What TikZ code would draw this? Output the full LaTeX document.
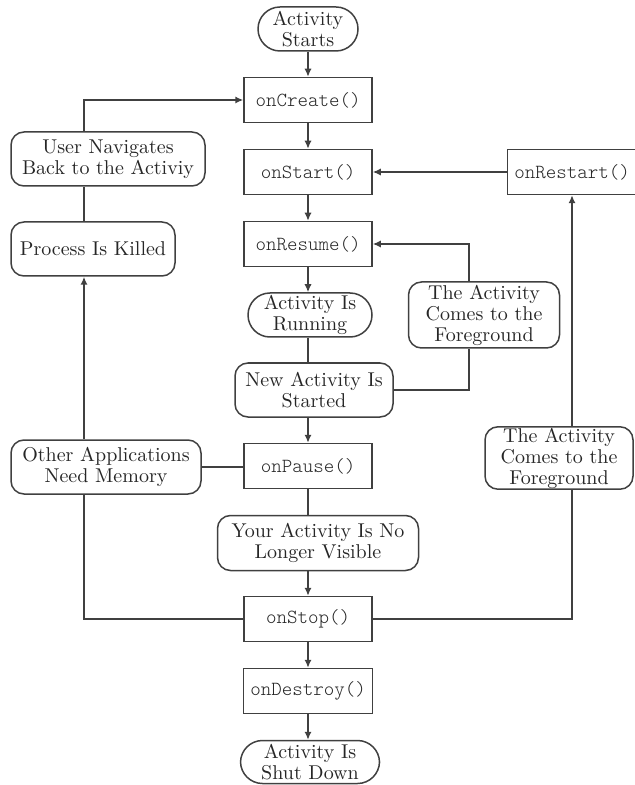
\documentclass[tikz,border=0pt]{standalone}
\usepackage{fontspec}
\usepackage{xcolor}
\usepackage{tikz}
\usetikzlibrary{arrows.meta}
\newfontfamily\methodfont{Latin Modern Mono Light}

\begin{document}
\begin{tikzpicture}[x=0.5pt,y=-0.5pt,line width=0.75pt,color=black!75,
  every node/.append style={text=black!85},
  method/.style={draw,minimum width=64pt,minimum height=22.5pt,font=\methodfont},
  event/.style={draw,rounded corners=6.5pt,align=center,inner sep=0.5pt,font=\fontsize{10pt}{10.5pt}\selectfont},
  state/.style={event,rounded corners=11pt},
  arr/.style={-{Latex[length=4pt,width=3.6pt]}}]
\useasboundingbox (0,0) rectangle (634,785);
\node[state,minimum width=50pt,minimum height=22pt] (start) at (308,29) {Activity\\Starts};
\node[method] (create) at (308,100) {onCreate()};
\node[method] (onstart) at (308,172) {onStart()};
\node[method,minimum width=61pt] (restart) at (572,172) {onRestart()};
\node[method] (resume) at (308,244) {onResume()};
\node[event,minimum width=97pt,minimum height=27pt] (navigate) at (108,159) {User Navigates\\Back to the Activiy};
\node[event,minimum width=82pt,minimum height=27pt] (killed) at (93,249) {Process Is Killed};
\node[state,minimum width=62pt,minimum height=22pt] (running) at (310,315) {Activity Is\\Running};
\node[event,minimum width=75.5pt,minimum height=33pt] (fgmid) at (484,315) {The Activity\\Comes to the\\Foreground};
\node[event,minimum width=79pt,minimum height=27pt] (newact) at (314,390) {New Activity Is\\Started};
\node[method] (pause) at (308,466) {onPause()};
\node[event,minimum width=95pt,minimum height=27pt] (memory) at (106,467) {Other Applications\\Need Memory};
\node[event,minimum width=74pt,minimum height=30.5pt] (fgright) at (559,458) {The Activity\\Comes to the\\Foreground};
\node[event,minimum width=100.5pt,minimum height=27.5pt] (hidden) at (318,543) {Your Activity Is No\\Longer Visible};
\node[method] (stop) at (308,619) {onStop()};
\node[method] (destroy) at (308,691) {onDestroy()};
\node[state,minimum width=69.5pt,minimum height=21.5pt] (shut) at (310,762) {Activity Is\\Shut Down};
\coordinate (lcol) at (84,0);
\coordinate (mcol) at (469,0);
\draw[arr] (start) -- (create);
\draw[arr] (create) -- (onstart);
\draw[arr] (onstart) -- (resume);
\draw[arr] (resume) -- (running.north -| resume);
\draw (running.south -| resume) -- (newact.north -| resume);
\draw[arr] (newact.south -| resume) -- (pause);
\draw (pause) -- (hidden.north -| pause);
\draw[arr] (hidden.south -| pause) -- (stop);
\draw[arr] (stop) -- (destroy);
\draw[arr] (destroy) -- (shut.north -| destroy);
\draw[arr] (restart) -- (onstart);
\draw (newact.east) -| (fgmid.south -| mcol);
\draw[arr] (fgmid.north -| mcol) |- (resume.east);
\draw (stop.east) -| (fgright.south -| restart);
\draw[arr] (fgright.north -| restart) -- (restart);
\draw (stop.west) -| (memory.south -| lcol);
\draw[arr] (memory.north -| lcol) -- (killed.south -| lcol);
\draw (memory.east) -- (memory.east -| pause.west);
\draw (killed.north -| lcol) -- (navigate.south -| lcol);
\draw[arr] (navigate.north -| lcol) |- (create.west);
\end{tikzpicture}
\end{document}
